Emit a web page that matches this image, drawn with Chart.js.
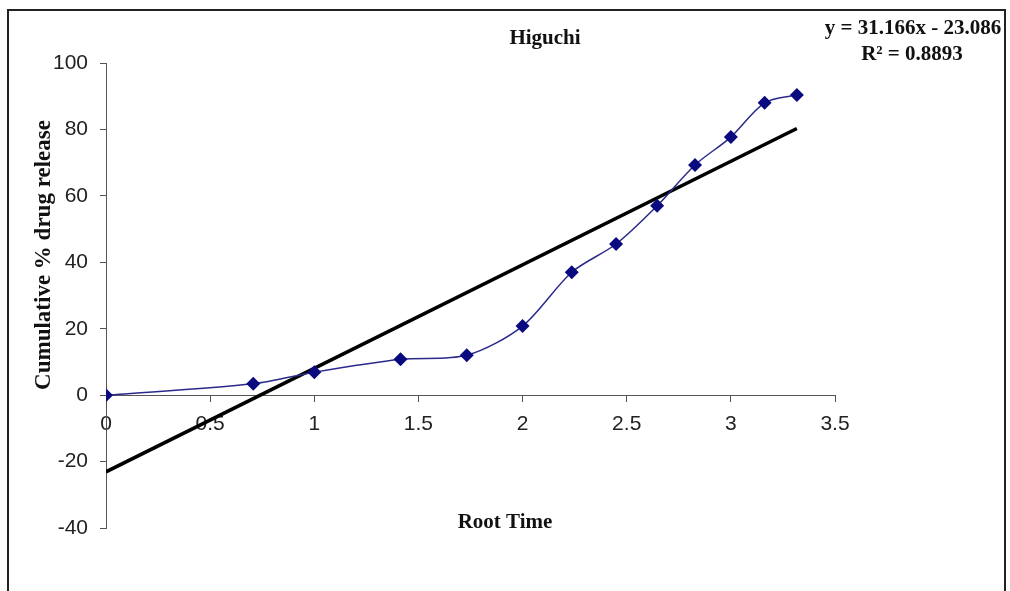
<!DOCTYPE html>
<html>
<head>
<meta charset="utf-8">
<script src="https://cdn.jsdelivr.net/npm/chart.js@4.4.1/dist/chart.umd.min.js"></script>
<style>
  html, body { margin: 0; padding: 0; background: #fff; }
  canvas { display: block; }
</style>
</head>
<body>
<canvas id="higuchi" width="1010" height="591"></canvas>
<script>
// root time (sqrt of hours) and cumulative % drug release
var rootTime = [0, 0.707, 1, 1.414, 1.732, 2, 2.236, 2.449, 2.646, 2.828, 3, 3.162, 3.317]
var release = [0, 3.4, 6.9, 10.8, 12.0, 20.8, 37.0, 45.5, 57.0, 69.3, 77.7, 88.0, 90.4]

// linear trendline reported on the chart
var slope = 31.166
var intercept = -23.086
var equationText = 'y = 31.166x - 23.086'
var r2Text = 'R\u00b2 = 0.8893'

var xTicks = [0, 0.5, 1, 1.5, 2, 2.5, 3, 3.5]
var yTicks = [-40, -20, 0, 20, 40, 60, 80, 100]

function to_points(xs, ys) {
    return xs.map(function(x, i) {
        return {x: x, y: ys[i]}
    })
}

var trendX = [rootTime[0], rootTime[rootTime.length - 1]]
var trendPoints = trendX.map(function(x) {
    return {x: x, y: slope * x + intercept}
})

var serif = '"Liberation Serif", "Times New Roman", serif'

// frame and the text Excel puts round the plot
var decorations = {
    id: 'decorations',
    afterDraw: function(chart) {
        var ctx = chart.ctx
        ctx.save()
        ctx.strokeStyle = '#222'
        ctx.lineWidth = 2
        ctx.strokeRect(8, 10, 997, 620)

        ctx.fillStyle = '#111'
        ctx.textAlign = 'center'
        ctx.textBaseline = 'middle'
        ctx.font = 'bold 21px ' + serif
        ctx.fillText('Higuchi', 545, 39)
        ctx.fillText('Root Time', 505, 523)

        ctx.font = 'bold 21px ' + serif
        ctx.fillText(equationText, 913, 29)
        ctx.fillText(r2Text, 912, 55)

        ctx.translate(44, 255)
        ctx.rotate(-Math.PI / 2)
        ctx.font = 'bold 23px ' + serif
        ctx.fillText('Cumulative % drug release', 0, 0)
        ctx.restore()
    }
}

var tickFont = {family: '"Liberation Sans", Arial, sans-serif', size: 21}

new Chart(document.getElementById('higuchi'), {
    type: 'scatter',
    data: {
        datasets: [{
            label: 'Release',
            data: to_points(rootTime, release),
            showLine: true,
            tension: 0.3,
            borderColor: '#2a2a8a',
            borderWidth: 1.5,
            backgroundColor: '#0a0a80',
            pointStyle: 'rectRot',
            pointRadius: 7,
            pointBorderWidth: 0,
            order: 1
        }, {
            label: 'Linear',
            data: trendPoints,
            showLine: true,
            borderColor: '#000',
            borderWidth: 3.5,
            pointRadius: 0,
            order: 2
        }]
    },
    options: {
        responsive: false,
        animation: false,
        layout: {padding: {left: 50, top: 63, right: 175, bottom: 63}},
        plugins: {legend: {display: false}, tooltip: {enabled: false}, title: {display: false}},
        scales: {
            x: {
                type: 'linear',
                position: {y: 0},
                min: 0,
                max: 3.5,
                afterBuildTicks: function(scale) {
                    scale.ticks = xTicks.map(function(v) { return {value: v} })
                },
                grid: {drawOnChartArea: false, drawTicks: true, tickLength: 6, color: '#555'},
                border: {color: '#555', width: 1},
                ticks: {font: tickFont, color: '#222', padding: 10, maxRotation: 0,
                    callback: function(v) { return String(v) }}
            },
            y: {
                type: 'linear',
                position: 'left',
                min: -40,
                max: 100,
                afterBuildTicks: function(scale) {
                    scale.ticks = yTicks.map(function(v) { return {value: v} })
                },
                afterFit: function(scale) {
                    scale.width = 56
                },
                grid: {drawOnChartArea: false, drawTicks: true, tickLength: 6, color: '#555'},
                border: {color: '#555', width: 1},
                ticks: {font: tickFont, color: '#222', padding: 12}
            }
        }
    },
    plugins: [decorations]
})
</script>
</body>
</html>
